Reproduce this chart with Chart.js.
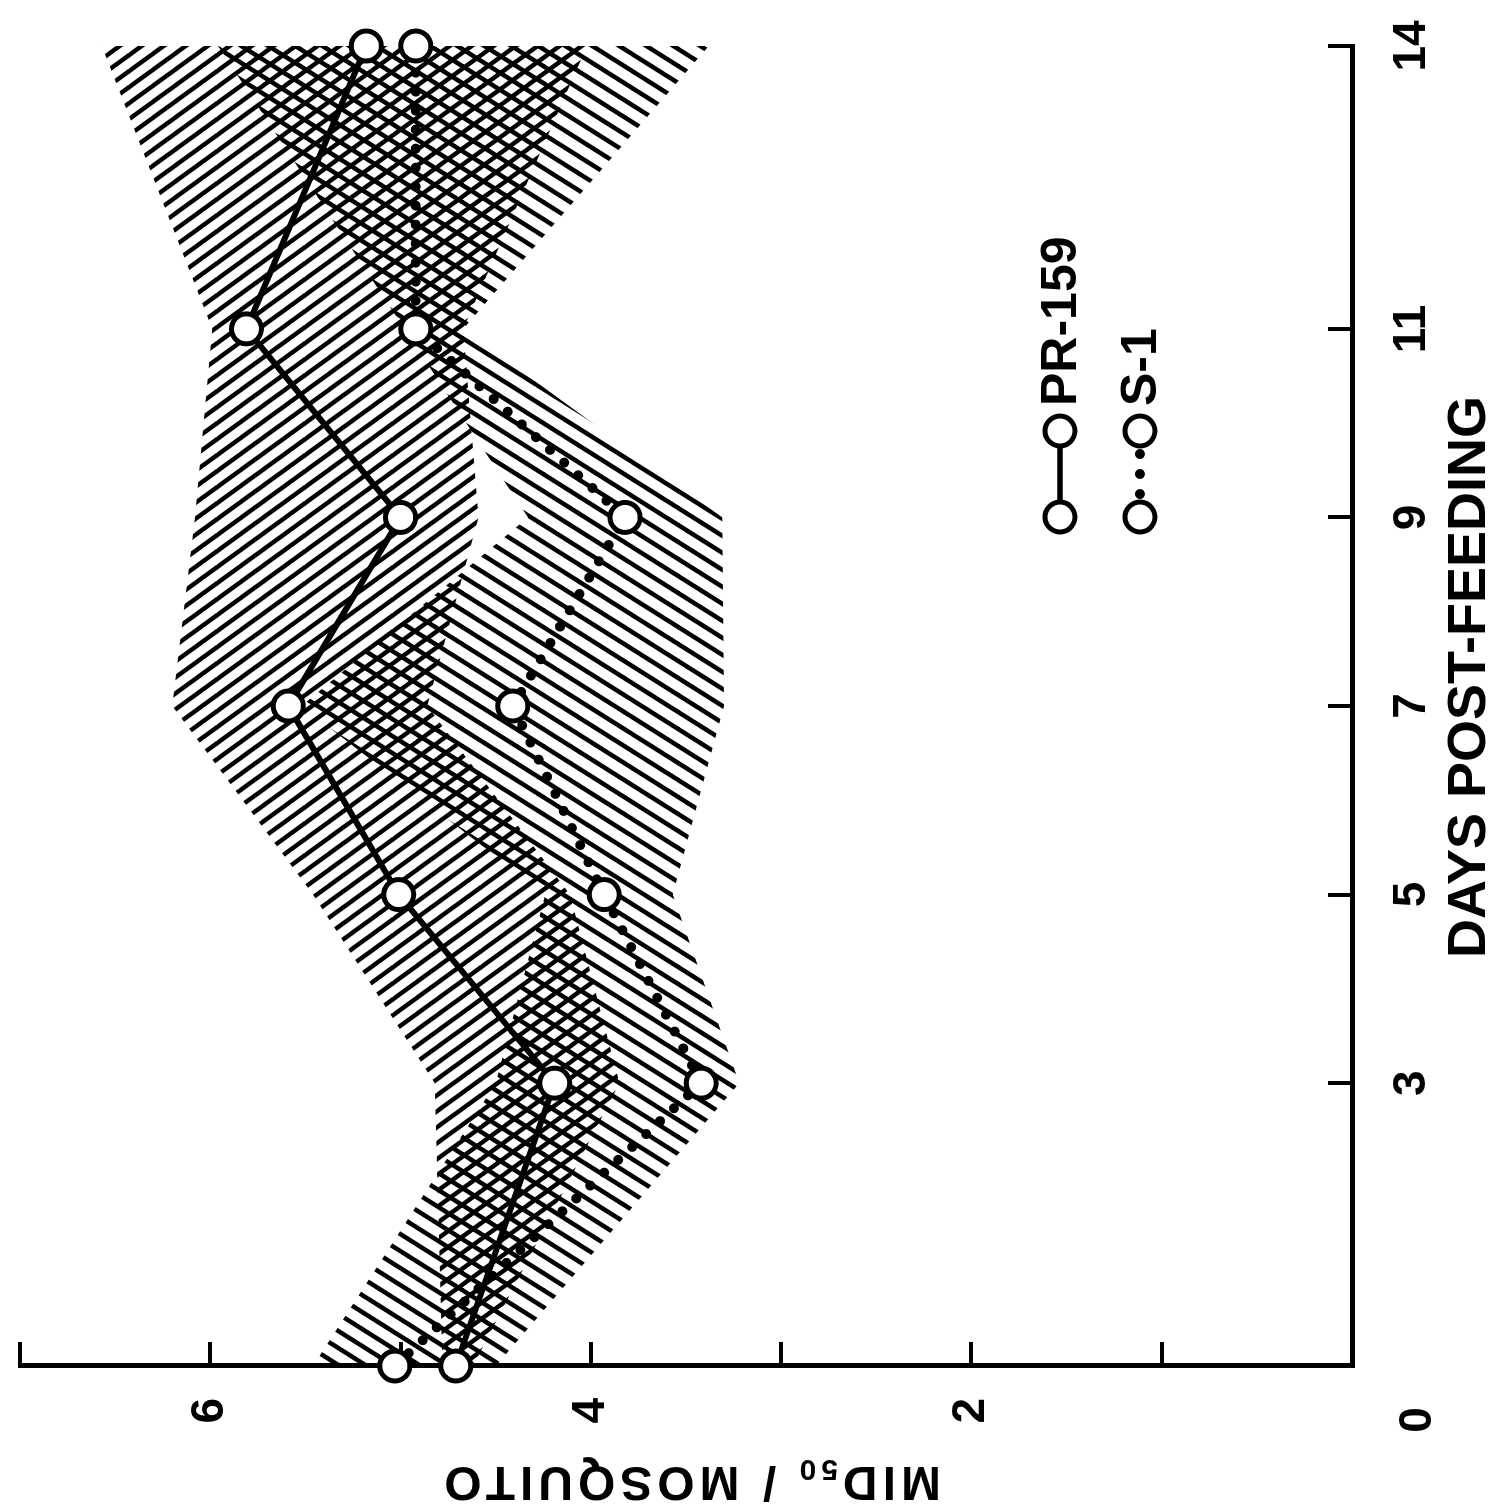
<!DOCTYPE html>
<html>
<head>
<meta charset="utf-8">
<script src="https://cdn.jsdelivr.net/npm/chart.js@4.4.1/dist/chart.umd.min.js"></script>
<style>
html, body { margin: 0; padding: 0; background: #ffffff; overflow: hidden; }
#wrap { position: absolute; left: 0; top: 0; width: 1509px; height: 1505px;
        transform-origin: 0 0; transform: translateY(1509px) rotate(-90deg); }
canvas { display: block; }
</style>
</head>
<body>
<div id="wrap"><canvas id="c" width="1509" height="1505"></canvas></div>
<script>
// ---- data ----
const days = [0, 3, 5, 7, 9, 11, 14];
const dayLabels = ['', '3', '5', '7', '9', '11', '14'];
const pr159 = [4.71, 4.19, 5.01, 5.59, 5.00, 5.81, 5.18];
const s1 = [5.03, 3.42, 3.93, 4.41, 3.82, 4.92, 4.92];
const pr159Upper = [4.78, 4.82, 5.46, 6.20, 6.08, 5.99, 6.57];
const pr159Lower = [4.62, 3.85, 4.11, 4.86, 4.59, 4.67, 4.02];
const s1Upper = [5.46, 4.50, 4.24, 5.52, 4.33, 4.98, 5.96];
const s1Lower = [4.50, 3.22, 3.57, 3.30, 3.31, 4.67, 3.38];
const midTicks = [0, 1, 2, 3, 4, 5, 6, 7];
const midLabels = ['', '', '2', '', '4', '', '6', ''];
const legendNames = ['PR-159', 'S-1'];

const FONT = 'Liberation Sans, Arial, Helvetica, sans-serif';
const canvas = document.getElementById('c');
const ctx0 = canvas.getContext('2d');

function hatch(w, h, dir) {
  const c = document.createElement('canvas');
  c.width = w; c.height = h;
  const g = c.getContext('2d');
  g.strokeStyle = '#000';
  g.lineWidth = 4.5;
  for (const o of [-w, 0, w]) {
    g.beginPath();
    if (dir === 'back') { g.moveTo(o - w, -h); g.lineTo(o + 2 * w, 2 * h); }
    else { g.moveTo(o + 2 * w, -h); g.lineTo(o - w, 2 * h); }
    g.stroke();
  }
  return ctx0.createPattern(c, 'repeat');
}
const prPattern = hatch(16, 22, 'back');
const s1Pattern = hatch(17, 27, 'fwd');

const mk = arr => days.map((d, i) => ({ x: d, y: arr[i] }));

const overlay = {
  id: 'overlay',
  afterDraw(chart) {
    const { ctx, chartArea, scales } = chart;
    const xs = scales.x, ys = scales.y;
    ctx.save();
    ctx.fillStyle = '#000';
    // corner "0"
    ctx.font = 'bold 46px ' + FONT;
    ctx.textAlign = 'center';
    ctx.textBaseline = 'middle';
    ctx.fillText('0', xs.getPixelForValue(0) - 54, ys.getPixelForValue(0) + 66);
    // days title
    ctx.font = 'bold 54px ' + FONT;
    ctx.fillText('DAYS POST-FEEDING', (chartArea.left + chartArea.right) / 2 + 29, 1470);
    // y title with subscript
    ctx.save();
    ctx.translate(29, (chartArea.top + chartArea.bottom) / 2 + 4);
    ctx.rotate(-Math.PI / 2);
    try { ctx.letterSpacing = '5px'; } catch (e) {}
    ctx.textAlign = 'left';
    const big = 'bold 48px ' + FONT, small = 'bold 30px ' + FONT;
    ctx.font = big; const w1 = ctx.measureText('MID').width;
    ctx.font = small; const w2 = ctx.measureText('50').width;
    ctx.font = big; const w3 = ctx.measureText(' / MOSQUITO').width;
    let sx = -(w1 + w2 + w3) / 2;
    ctx.font = big; ctx.fillText('MID', sx, 0);
    ctx.font = small; ctx.fillText('50', sx + w1, 12);
    ctx.font = big; ctx.fillText(' / MOSQUITO', sx + w1 + w2, 0);
    ctx.restore();
    // legend
    const rows = [1060, 1140];
    rows.forEach((yy, i) => {
      const xa = 992, xb = 1078;
      ctx.save();
      ctx.strokeStyle = '#000';
      if (i === 1) { ctx.lineWidth = 10; ctx.setLineDash([0, 20]); ctx.lineCap = 'round'; ctx.lineDashOffset = -3; }
      else { ctx.lineWidth = 5.5; }
      ctx.beginPath(); ctx.moveTo(xa, yy); ctx.lineTo(xb, yy); ctx.stroke();
      ctx.setLineDash([]);
      ctx.lineWidth = 5; ctx.fillStyle = '#fff';
      for (const cx of [xa, xb]) {
        ctx.beginPath(); ctx.arc(cx, yy, 15, 0, Math.PI * 2); ctx.fill(); ctx.stroke();
      }
      ctx.fillStyle = '#000';
      ctx.font = 'bold 50px ' + FONT;
      ctx.textAlign = 'left'; ctx.textBaseline = 'middle';
      ctx.fillText(legendNames[i], 1103, yy + 2);
      ctx.restore();
    });
    ctx.restore();
  }
};

const lineCommon = {
  borderColor: '#000', pointRadius: 15, pointHoverRadius: 15, pointBorderWidth: 5,
  pointBackgroundColor: '#fff', pointBorderColor: '#000', fill: false, tension: 0, clip: false
};
const bandCommon = { borderWidth: 0, pointRadius: 0, pointHoverRadius: 0, tension: 0 };

new Chart(canvas, {
  type: 'line',
  data: {
    datasets: [
      Object.assign({ label: 'PR-159', data: mk(pr159), borderWidth: 6 }, lineCommon),
      Object.assign({ label: 'S-1', data: mk(s1), borderWidth: 10, borderDash: [0, 19], borderCapStyle: 'round' }, lineCommon),
      Object.assign({ label: 'PR-159 upper', data: mk(pr159Upper), fill: '+1', backgroundColor: prPattern }, bandCommon),
      Object.assign({ label: 'PR-159 lower', data: mk(pr159Lower), fill: false }, bandCommon),
      Object.assign({ label: 'S-1 upper', data: mk(s1Upper), fill: '+1', backgroundColor: s1Pattern }, bandCommon),
      Object.assign({ label: 'S-1 lower', data: mk(s1Lower), fill: false }, bandCommon)
    ]
  },
  options: {
    responsive: false, animation: false, devicePixelRatio: 1, events: [],
    layout: { padding: { top: 15, right: 46, left: 0, bottom: 0 } },
    plugins: { legend: { display: false }, tooltip: { enabled: false } },
    scales: {
      x: {
        type: 'linear', min: 0, max: 14, position: 'bottom',
        afterBuildTicks: s => { s.ticks = days.map(v => ({ value: v })); },
        afterFit: s => { s.height = 153; s.paddingLeft = 0; s.paddingRight = 0; },
        ticks: {
          autoSkip: false, maxRotation: 0, minRotation: 0, padding: 57, color: '#000',
          font: { family: FONT, size: 46, weight: 'bold' },
          callback: v => { const i = days.indexOf(v); return i >= 0 ? dayLabels[i] : ''; }
        },
        grid: { display: true, drawOnChartArea: false, drawTicks: true, tickLength: -24,
                tickWidth: 4, tickColor: '#000', color: '#000', lineWidth: 4 },
        border: { display: true, color: '#000', width: 5 }
      },
      y: {
        type: 'linear', min: 0, max: 7, position: 'left',
        afterBuildTicks: s => { s.ticks = midTicks.map(v => ({ value: v })); },
        afterFit: s => { s.width = 143; s.paddingTop = 0; s.paddingBottom = 0; },
        ticks: {
          autoSkip: false, padding: 56, color: '#000',
          font: { family: FONT, size: 46, weight: 'bold' },
          callback: v => { const i = midTicks.indexOf(v); return i >= 0 ? midLabels[i] : ''; }
        },
        grid: { display: true, drawOnChartArea: false, drawTicks: true, tickLength: -24,
                tickWidth: 4, tickColor: '#000', color: '#000', lineWidth: 4 },
        border: { display: true, color: '#000', width: 5 }
      }
    }
  },
  plugins: [overlay]
});
</script>
</body>
</html>
